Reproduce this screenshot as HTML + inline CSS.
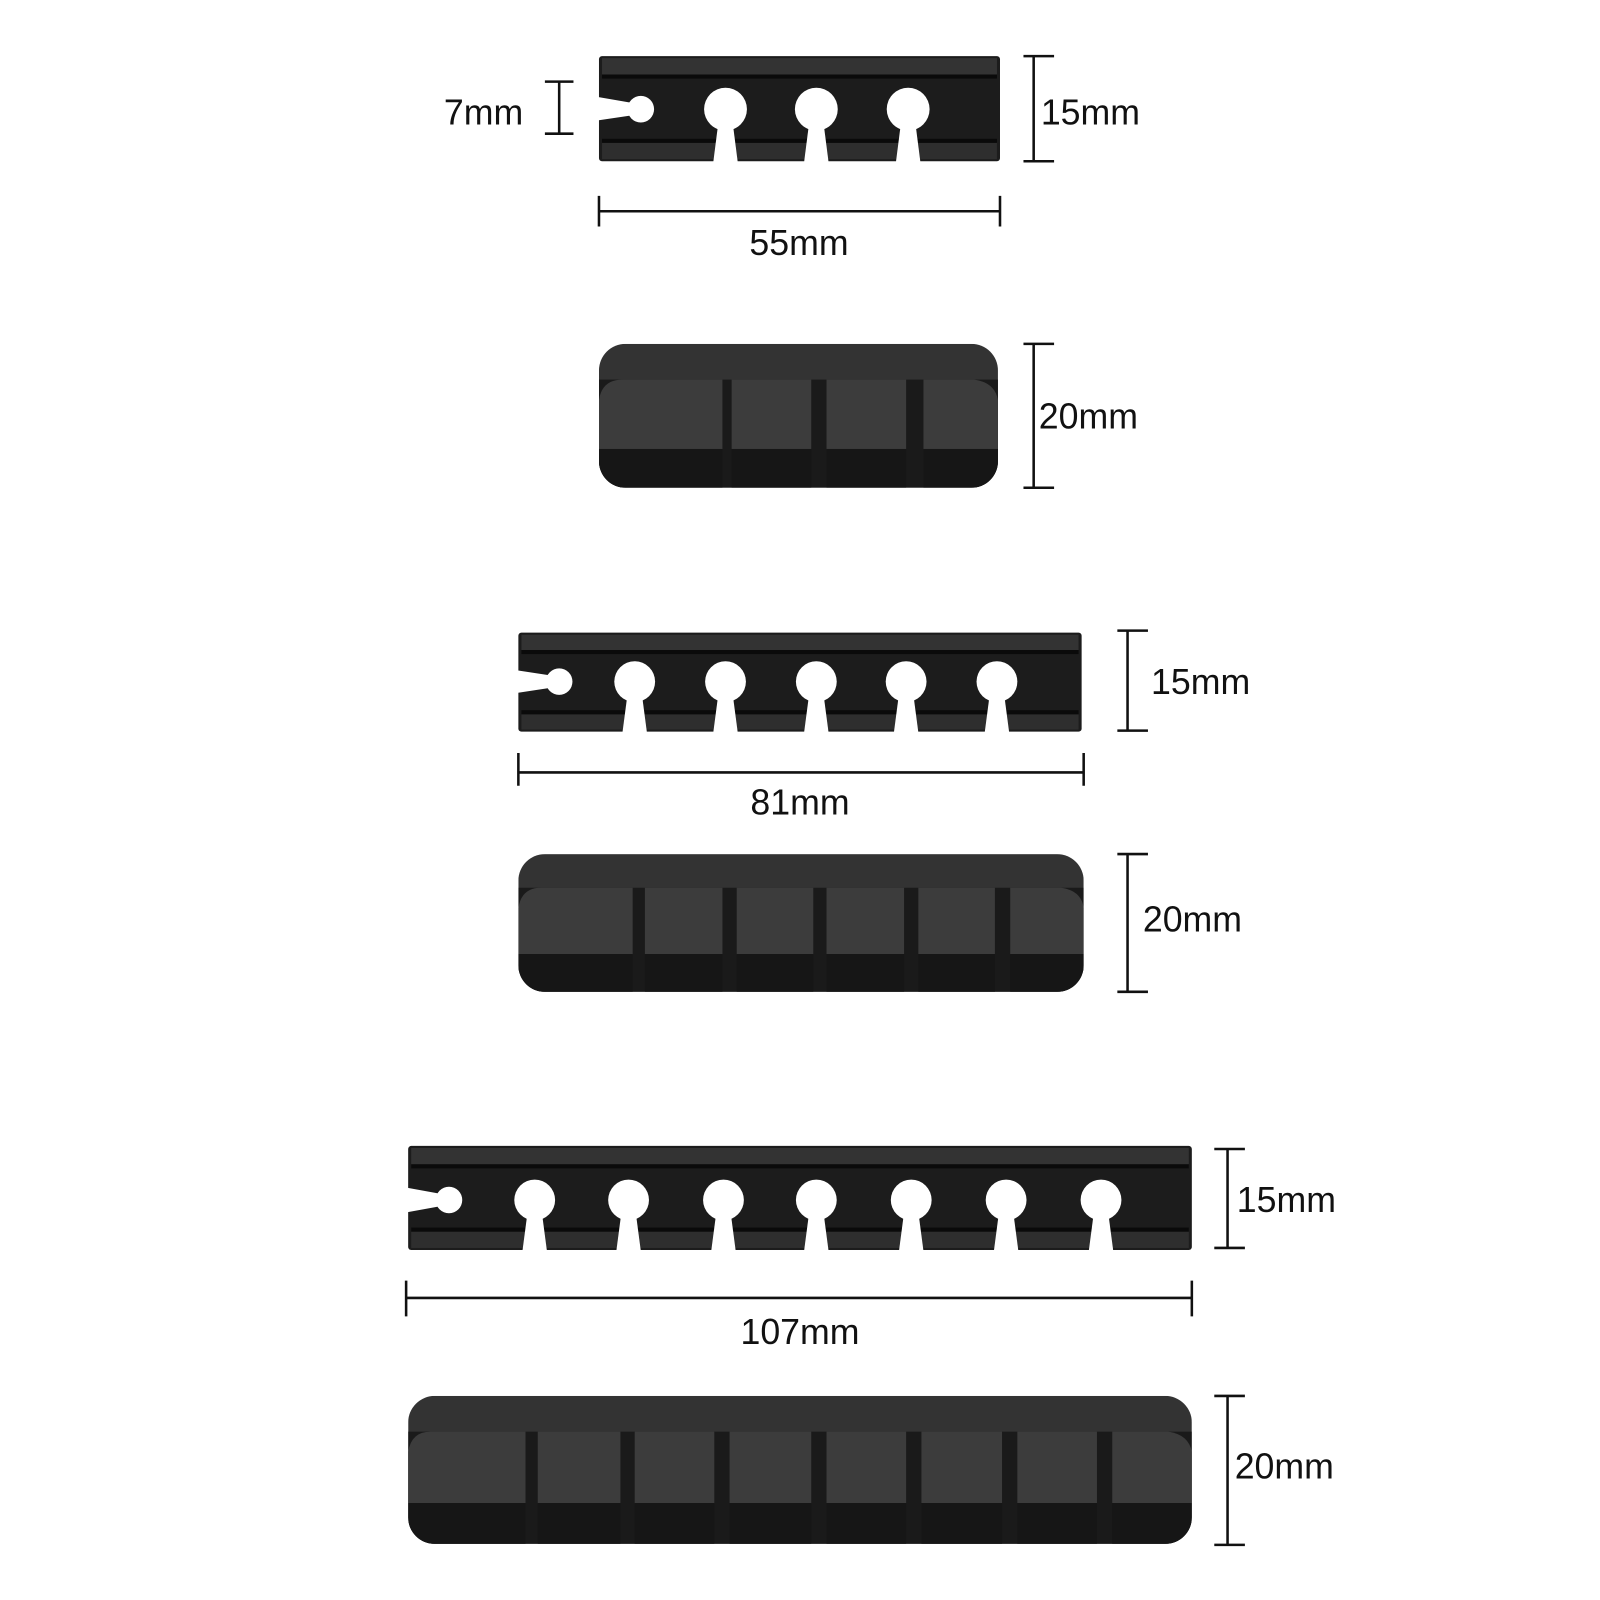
<!DOCTYPE html>
<html><head><meta charset="utf-8"><style>
html,body{margin:0;padding:0;background:#fff;}
svg{display:block;}
text{font-family:"Liberation Sans",sans-serif;font-size:35px;fill:#111;}
</style></head><body>
<svg width="1600" height="1600" viewBox="0 0 1568 1568" xmlns="http://www.w3.org/2000/svg">
<defs>
<clipPath id="c2"><rect x="587" y="337" width="391" height="141" rx="26"/></clipPath>
<clipPath id="c4"><rect x="508" y="837" width="554" height="135" rx="26"/></clipPath>
<clipPath id="c6"><rect x="400" y="1368" width="768" height="145" rx="26"/></clipPath>
</defs>
<g stroke="#111" stroke-width="2.5" fill="none">
<path d="M534 80H562M548 80V131M534 131H562"/>
<path d="M1003 55H1033M1013 55V158M1003 158H1033"/>
<path d="M587 192V222M587 207H980M980 192V222"/>
<path d="M1003 337H1033M1013 337V478M1003 478H1033"/>
<path d="M1095 618H1125M1105 618V716M1095 716H1125"/>
<path d="M508 738V770M508 757H1062M1062 738V770"/>
<path d="M1095 837H1125M1105 837V972M1095 972H1125"/>
<path d="M1190 1126H1220M1203 1126V1223M1190 1223H1220"/>
<path d="M398 1255V1290M398 1272H1168M1168 1255V1290"/>
<path d="M1190 1368H1220M1203 1368V1514M1190 1514H1220"/>
</g>
<text x="435" y="122">7mm</text>
<text x="1020" y="122">15mm</text>
<text x="783" y="250" text-anchor="middle">55mm</text>
<text x="1018" y="420">20mm</text>
<text x="1128" y="680">15mm</text>
<text x="784" y="798" text-anchor="middle">81mm</text>
<text x="1120" y="913">20mm</text>
<text x="1212" y="1188">15mm</text>
<text x="784" y="1317" text-anchor="middle">107mm</text>
<text x="1210" y="1449">20mm</text>

<g>
<rect x="587" y="55" width="393" height="103" rx="3" fill="#1c1c1c"/>
<rect x="590" y="57" width="387" height="16" fill="#333"/>
<rect x="590" y="73" width="387" height="4" fill="#0a0a0a"/>
<rect x="590" y="140" width="387" height="16" fill="#2e2e2e"/>
<rect x="590" y="136" width="387" height="4" fill="#0a0a0a"/>
<circle cx="628" cy="107" r="13" fill="#fff"/>
<polygon points="586,95 620,101 620,113 586,118" fill="#fff"/>
<g fill="#fff">
<circle cx="711" cy="107" r="21"/><polygon points="704,120 718,120 723,159 699,159"/>
<circle cx="800" cy="107" r="21"/><polygon points="793,120 807,120 812,159 788,159"/>
<circle cx="890" cy="107" r="21"/><polygon points="883,120 897,120 902,159 878,159"/>
</g>
</g>

<g clip-path="url(#c2)">
<rect x="587" y="337" width="391" height="141" fill="#333"/>
<rect x="587" y="372" width="391" height="106" fill="#1a1a1a"/>
<g fill="#3c3c3c">
<path d="M587 392Q590 372 610 372H708V440H587Z"/><rect x="717" y="372" width="78" height="68"/><rect x="810" y="372" width="78" height="68"/><path d="M905 372H955Q975 375 978 392V440H905Z"/>
</g>
<g fill="#161616">
<rect x="587" y="440" width="121" height="38"/><rect x="717" y="440" width="78" height="38"/><rect x="810" y="440" width="78" height="38"/><rect x="905" y="440" width="73" height="38"/>
</g>
</g>

<g>
<rect x="508" y="620" width="552" height="97" rx="3" fill="#1c1c1c"/>
<rect x="511" y="622" width="546" height="15" fill="#333"/>
<rect x="511" y="637" width="546" height="4" fill="#0a0a0a"/>
<rect x="511" y="700" width="546" height="15" fill="#2e2e2e"/>
<rect x="511" y="696" width="546" height="4" fill="#0a0a0a"/>
<circle cx="548" cy="668" r="13" fill="#fff"/>
<polygon points="507,657 540,662 540,674 507,679" fill="#fff"/>
<g fill="#fff">
<circle cx="622" cy="668" r="20"/><polygon points="615,680 629,680 634,718 610,718"/>
<circle cx="711" cy="668" r="20"/><polygon points="704,680 718,680 723,718 699,718"/>
<circle cx="800" cy="668" r="20"/><polygon points="793,680 807,680 812,718 788,718"/>
<circle cx="888" cy="668" r="20"/><polygon points="881,680 895,680 900,718 876,718"/>
<circle cx="977" cy="668" r="20"/><polygon points="970,680 984,680 989,718 965,718"/>
</g>
</g>

<g clip-path="url(#c4)">
<rect x="508" y="837" width="554" height="135" fill="#333"/>
<rect x="508" y="870" width="554" height="102" fill="#1a1a1a"/>
<g fill="#3c3c3c">
<path d="M508 890Q511 870 530 870H620V935H508Z"/><rect x="632" y="870" width="76" height="65"/><rect x="722" y="870" width="75" height="65"/><rect x="810" y="870" width="76" height="65"/><rect x="900" y="870" width="75" height="65"/><path d="M990 870H1040Q1060 873 1062 890V935H990Z"/>
</g>
<g fill="#161616">
<rect x="508" y="935" width="112" height="37"/><rect x="632" y="935" width="76" height="37"/><rect x="722" y="935" width="75" height="37"/><rect x="810" y="935" width="76" height="37"/><rect x="900" y="935" width="75" height="37"/><rect x="990" y="935" width="72" height="37"/>
</g>
</g>

<g>
<rect x="400" y="1123" width="768" height="102" rx="3" fill="#1c1c1c"/>
<rect x="403" y="1125" width="762" height="16" fill="#333"/>
<rect x="403" y="1141" width="762" height="4" fill="#0a0a0a"/>
<rect x="403" y="1207" width="762" height="16" fill="#2e2e2e"/>
<rect x="403" y="1203" width="762" height="4" fill="#0a0a0a"/>
<circle cx="440" cy="1176" r="13" fill="#fff"/>
<polygon points="399,1164 432,1170 432,1182 399,1188" fill="#fff"/>
<g fill="#fff">
<circle cx="524" cy="1176" r="20"/><polygon points="517,1188 531,1188 536,1226 512,1226"/>
<circle cx="616" cy="1176" r="20"/><polygon points="609,1188 623,1188 628,1226 604,1226"/>
<circle cx="709" cy="1176" r="20"/><polygon points="702,1188 716,1188 721,1226 697,1226"/>
<circle cx="800" cy="1176" r="20"/><polygon points="793,1188 807,1188 812,1226 788,1226"/>
<circle cx="893" cy="1176" r="20"/><polygon points="886,1188 900,1188 905,1226 881,1226"/>
<circle cx="986" cy="1176" r="20"/><polygon points="979,1188 993,1188 998,1226 974,1226"/>
<circle cx="1079" cy="1176" r="20"/><polygon points="1072,1188 1086,1188 1091,1226 1067,1226"/>
</g>
</g>

<g clip-path="url(#c6)">
<rect x="400" y="1368" width="768" height="145" fill="#333"/>
<rect x="400" y="1403" width="768" height="110" fill="#1a1a1a"/>
<g fill="#3c3c3c">
<path d="M400 1423Q403 1403 422 1403H515V1473H400Z"/><rect x="527" y="1403" width="81" height="70"/><rect x="622" y="1403" width="78" height="70"/><rect x="715" y="1403" width="80" height="70"/><rect x="810" y="1403" width="78" height="70"/><rect x="903" y="1403" width="79" height="70"/><rect x="997" y="1403" width="78" height="70"/><path d="M1090 1403H1145Q1165 1406 1168 1423V1473H1090Z"/>
</g>
<g fill="#161616">
<rect x="400" y="1473" width="115" height="40"/><rect x="527" y="1473" width="81" height="40"/><rect x="622" y="1473" width="78" height="40"/><rect x="715" y="1473" width="80" height="40"/><rect x="810" y="1473" width="78" height="40"/><rect x="903" y="1473" width="79" height="40"/><rect x="997" y="1473" width="78" height="40"/><rect x="1090" y="1473" width="78" height="40"/>
</g>
</g>
</svg>
</body></html>
